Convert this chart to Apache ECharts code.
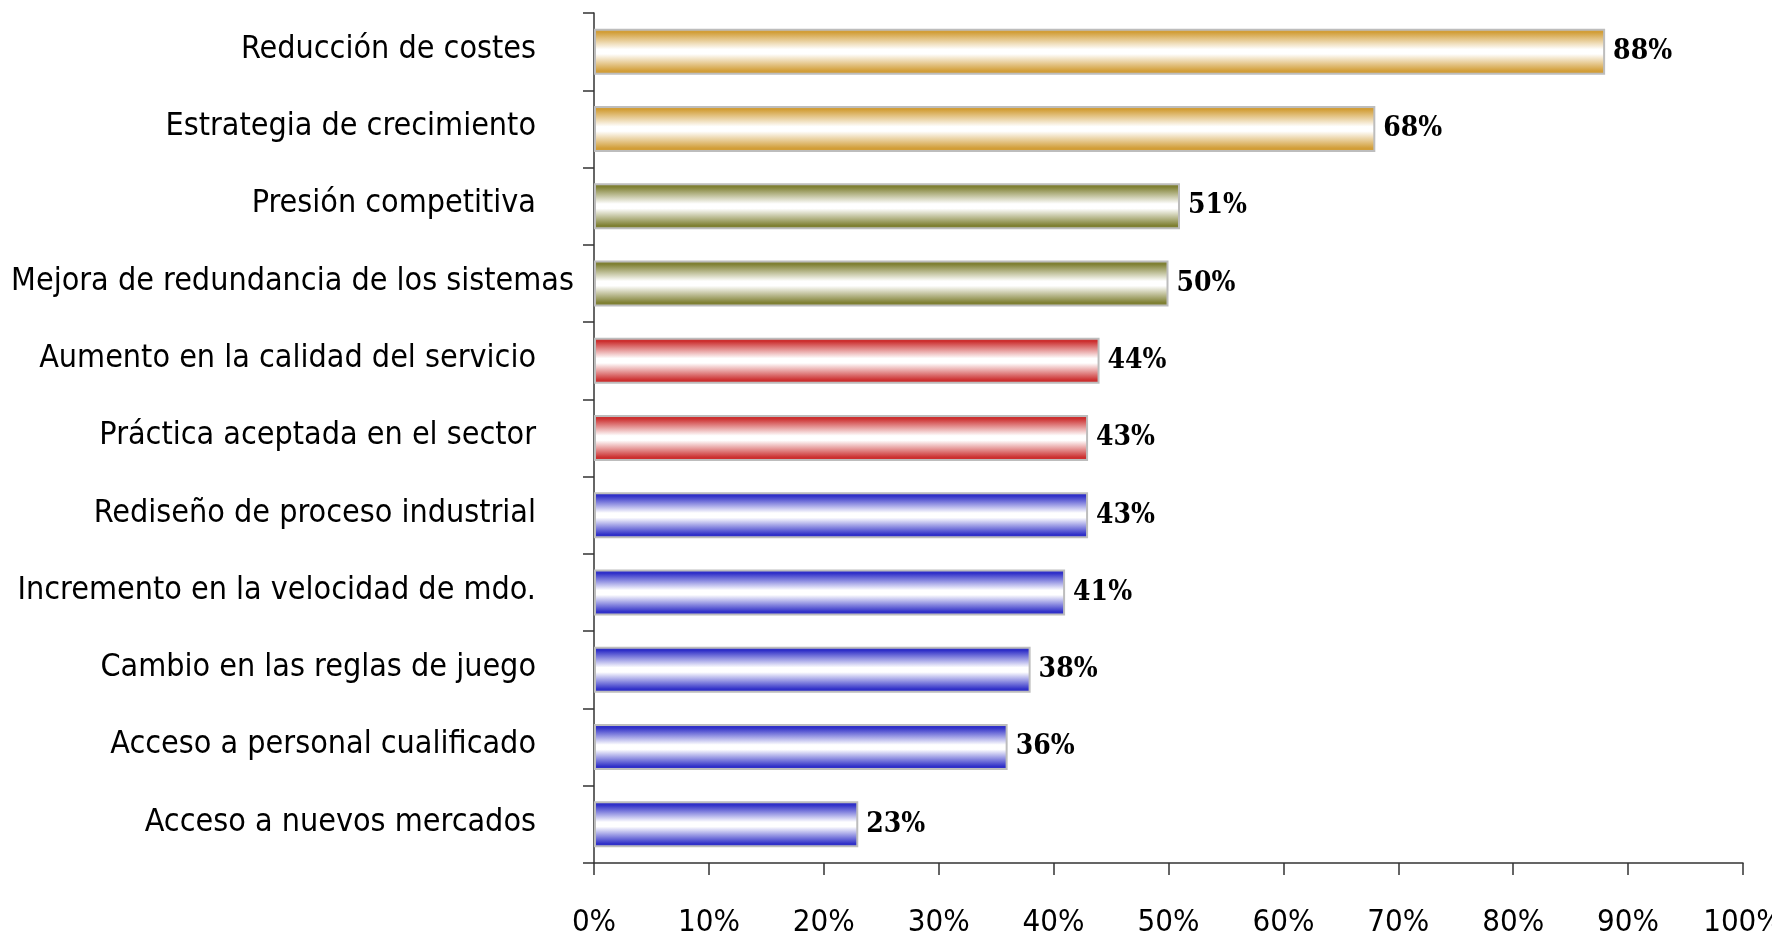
<!DOCTYPE html>
<html>
<head>
<meta charset="utf-8">
<script src="https://cdn.jsdelivr.net/npm/echarts@6/dist/echarts.min.js"></script>
<style>
html,body{margin:0;padding:0;background:#fff;}
#chart{width:1772px;height:931px;}
</style>
</head>
<body>
<div id="chart"></div>
<script>
const categories = [
  'Reducción de costes',
  'Estrategia de crecimiento',
  'Presión competitiva',
  'Mejora de redundancia de los sistemas',
  'Aumento en la calidad del servicio',
  'Práctica aceptada en el sector',
  'Rediseño de proceso industrial',
  'Incremento en la velocidad de mdo.',
  'Cambio en las reglas de juego',
  'Acceso a personal cualificado',
  'Acceso a nuevos mercados'
];
const values = [88, 68, 51, 50, 44, 43, 43, 41, 38, 36, 23];
const barColors = ['#D29E38', '#D29E38', '#7F8033', '#7F8033', '#CC3030', '#CC3030',
                   '#3030C8', '#3030C8', '#3030C8', '#3030C8', '#3030C8'];
const xTicks = [0, 10, 20, 30, 40, 50, 60, 70, 80, 90, 100];

function grad(c) {
  return new echarts.graphic.LinearGradient(0, 0, 0, 1, [
    {offset: 0, color: c},
    {offset: 0.08, color: c},
    {offset: 0.45, color: '#ffffff'},
    {offset: 0.55, color: '#ffffff'},
    {offset: 0.92, color: c},
    {offset: 1, color: c}
  ]);
}

const chart = echarts.init(document.getElementById('chart'), null, {renderer: 'canvas'});
const labelFont = '"DejaVu Sans Condensed", "Liberation Sans Narrow", sans-serif';

chart.setOption({
  animation: false,
  backgroundColor: '#ffffff',
  grid: {left: 594, right: 29, top: 13, bottom: 68, containLabel: false, outerBoundsMode: 'none'},
  xAxis: {
    type: 'value',
    min: 0, max: 100, interval: 10,
    axisLine: {show: true, lineStyle: {color: '#333', width: 1.5}},
    axisTick: {show: true, length: 12, lineStyle: {color: '#333', width: 1.5}},
    splitLine: {show: false},
    axisLabel: {
      margin: 44,
      color: '#000',
      fontFamily: labelFont,
      fontSize: 31,
      formatter: v => v + '%'
    }
  },
  yAxis: {
    type: 'category',
    data: categories,
    inverse: true,
    axisLine: {show: true, lineStyle: {color: '#333', width: 1.5}},
    axisTick: {show: true, length: 11, lineStyle: {color: '#333', width: 1.5}},
    axisLabel: {
      margin: 20,
      color: '#000',
      fontFamily: labelFont,
      fontSize: 32,
      formatter: v => (v === 'Mejora de redundancia de los sistemas' ? '{m|' + v + '}' : '{p|' + v + '}'),
      rich: {
        p: {fontFamily: labelFont, fontSize: 32, color: '#000', padding: [0, 38, 4, 0]},
        m: {fontFamily: labelFont, fontSize: 32, color: '#000', padding: [0, 0, 4, 0]}
      }
    }
  },
  series: [{
    type: 'bar',
    barWidth: 46,
    data: values.map((v, i) => ({
      value: v,
      itemStyle: {color: grad(barColors[i]), borderColor: '#BDBDBD', borderWidth: 2}
    })),
    label: {
      show: true,
      position: 'right',
      distance: 8,
      color: '#000',
      fontFamily: '"DejaVu Serif Condensed", "DejaVu Serif", serif',
      fontWeight: 'bold',
      fontSize: 28,
      formatter: p => p.value + '%'
    }
  }]
});
</script>
</body>
</html>
